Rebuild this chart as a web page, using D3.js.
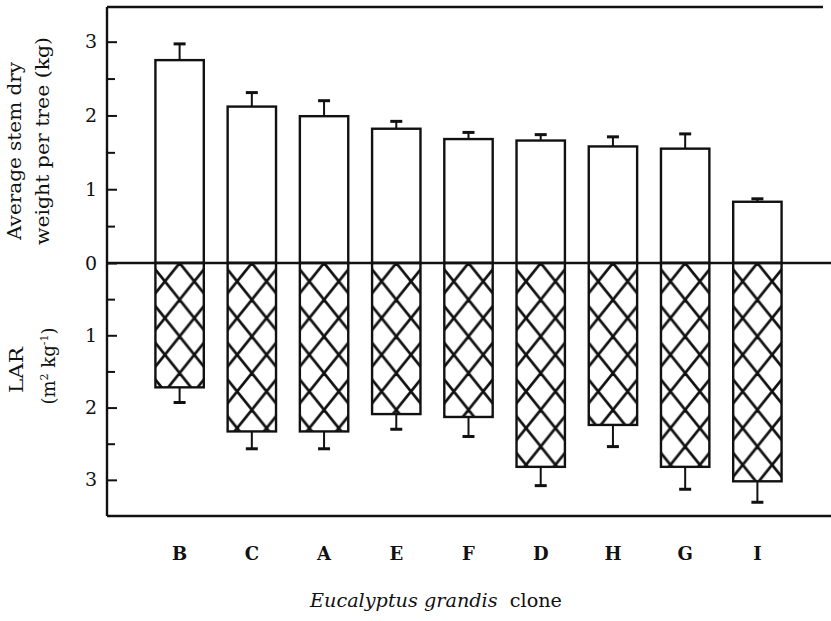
<!DOCTYPE html>
<html>
<head>
<meta charset="utf-8">
<script src="https://cdn.jsdelivr.net/npm/d3@7"></script>
<style>
  html, body { margin: 0; padding: 0; background: #fff; }
  svg { display: block; }
  text { font-family: "DejaVu Serif", "Liberation Serif", serif; fill: #111; }
</style>
</head>
<body>
<div id="chart"></div>
<script>
'use strict';

// data
var clones = ['B', 'C', 'A', 'E', 'F', 'D', 'H', 'G', 'I'];
var stemWeight = [2.75, 2.12, 1.99, 1.82, 1.68, 1.66, 1.58, 1.55, 0.83];
var stemErr = [0.22, 0.19, 0.21, 0.10, 0.09, 0.08, 0.13, 0.20, 0.04];
var lar = [1.72, 2.33, 2.33, 2.09, 2.13, 2.82, 2.24, 2.82, 3.02];
var larErr = [0.21, 0.24, 0.24, 0.21, 0.27, 0.26, 0.30, 0.31, 0.29];
var topTicks = [0, 1, 2, 3];
var bottomTicks = [1, 2, 3];

(function(){

var W = 831, H = 621;
var leftX = 107, topY = 7, zeroY = 263, bottomY = 516, rightX = 831;
var serif = '"DejaVu Serif", "Liberation Serif", serif';

var svg = d3.select('#chart').append('svg')
    .attr('width', W)
    .attr('height', H);

var x = d3.scaleBand()
    .domain(clones)
    .range([143.5, 793.5])
    .paddingInner(0.33)
    .paddingOuter(0.165);

var yTop = d3.scaleLinear().domain([0, 3.47]).range([zeroY, topY]);
var yBot = d3.scaleLinear().domain([0, 3.5]).range([zeroY, bottomY]);

// cross hatch, one pattern per bar so a crossing sits at the bar centre
var tw = 29.4, th = 36.7;
var defs = svg.append('defs');
clones.forEach(function(c, i){
    var p = defs.append('pattern')
        .attr('id', 'hatch' + i)
        .attr('patternUnits', 'userSpaceOnUse')
        .attr('x', x(c) + x.bandwidth() / 2)
        .attr('y', zeroY)
        .attr('width', tw)
        .attr('height', th);
    p.append('rect').attr('width', tw).attr('height', th).attr('fill', '#fff');
    [-1, 0, 1].forEach(function(k){
        p.append('line')
            .attr('x1', k * tw).attr('y1', 0)
            .attr('x2', (k + 1) * tw).attr('y2', th)
            .attr('stroke', '#111').attr('stroke-width', 2.7);
        p.append('line')
            .attr('x1', (k + 1) * tw).attr('y1', 0)
            .attr('x2', k * tw).attr('y2', th)
            .attr('stroke', '#111').attr('stroke-width', 2.7);
    });
});

var gBars = svg.append('g');

// stem weight bars (up)
gBars.selectAll('.up').data(clones).enter().append('rect')
    .attr('class', 'up')
    .attr('x', function(d){ return x(d); })
    .attr('y', function(d, i){ return yTop(stemWeight[i]); })
    .attr('width', x.bandwidth())
    .attr('height', function(d, i){ return zeroY - yTop(stemWeight[i]); })
    .attr('fill', '#fff')
    .attr('stroke', '#111')
    .attr('stroke-width', 2.4);

// LAR bars (down)
gBars.selectAll('.down').data(clones).enter().append('rect')
    .attr('class', 'down')
    .attr('x', function(d){ return x(d); })
    .attr('y', zeroY)
    .attr('width', x.bandwidth())
    .attr('height', function(d, i){ return yBot(lar[i]) - zeroY; })
    .attr('fill', function(d, i){ return 'url(#hatch' + i + ')'; })
    .attr('stroke', '#111')
    .attr('stroke-width', 2.4);

// error bars
function errBars(cls, vals, errs, scale){
    var g = svg.append('g').attr('class', cls);
    clones.forEach(function(c, i){
        var cx = x(c) + x.bandwidth() / 2;
        var y0 = scale(vals[i]), y1 = scale(vals[i] + errs[i]);
        g.append('line')
            .attr('x1', cx).attr('x2', cx)
            .attr('y1', y0).attr('y2', y1)
            .attr('stroke', '#111').attr('stroke-width', 2);
        g.append('line')
            .attr('x1', cx - 6).attr('x2', cx + 6)
            .attr('y1', y1).attr('y2', y1)
            .attr('stroke', '#111').attr('stroke-width', 3);
    });
}
errBars('err-up', stemWeight, stemErr, yTop);
errBars('err-down', lar, larErr, yBot);

// frame lines
var frame = svg.append('g').attr('stroke', '#111').attr('stroke-width', 2.4);
frame.append('line').attr('x1', leftX).attr('x2', 823).attr('y1', topY).attr('y2', topY);
frame.append('line').attr('x1', leftX).attr('x2', rightX).attr('y1', zeroY).attr('y2', zeroY);
frame.append('line').attr('x1', leftX).attr('x2', rightX).attr('y1', bottomY).attr('y2', bottomY);
frame.append('line').attr('x1', leftX).attr('x2', leftX).attr('y1', topY).attr('y2', bottomY);

// axes, ticks pointing inward
function styleAxis(g){
    g.attr('font-family', serif).attr('font-size', 19);
    g.select('.domain').remove();
    g.selectAll('line').attr('stroke', '#111').attr('stroke-width', 2);
    g.selectAll('text').attr('fill', '#111');
}

svg.append('g')
    .attr('transform', 'translate(' + leftX + ',0)')
    .call(d3.axisLeft(yTop).tickValues([0.5, 1.5, 2.5]).tickSize(-8).tickFormat(''))
    .call(styleAxis);
svg.append('g')
    .attr('transform', 'translate(' + leftX + ',0)')
    .call(d3.axisLeft(yTop).tickValues(topTicks).tickSize(-10).tickPadding(10).tickFormat(d3.format('d')))
    .call(styleAxis);
svg.append('g')
    .attr('transform', 'translate(' + leftX + ',0)')
    .call(d3.axisLeft(yBot).tickValues([0.5, 1.5, 2.5]).tickSize(-8).tickFormat(''))
    .call(styleAxis);
svg.append('g')
    .attr('transform', 'translate(' + leftX + ',0)')
    .call(d3.axisLeft(yBot).tickValues(bottomTicks).tickSize(-10).tickPadding(10).tickFormat(d3.format('d')))
    .call(styleAxis);

// category labels
svg.append('g').selectAll('text').data(clones).enter().append('text')
    .attr('x', function(d){ return x(d) + x.bandwidth() / 2; })
    .attr('y', 560)
    .attr('text-anchor', 'middle')
    .style('font-size', '18px')
    .style('font-weight', 600)
    .text(function(d){ return d; });

// axis titles
var xt = svg.append('text')
    .attr('x', 436).attr('y', 607)
    .attr('text-anchor', 'middle')
    .attr('textLength', 252)
    .attr('lengthAdjust', 'spacingAndGlyphs')
    .style('font-size', '18px');
xt.append('tspan').style('font-style', 'italic').text('Eucalyptus grandis');
xt.append('tspan').text('\u00a0 clone');

svg.append('text')
    .attr('transform', 'translate(21,151) rotate(-90)')
    .attr('text-anchor', 'middle')
    .attr('textLength', 178)
    .attr('lengthAdjust', 'spacingAndGlyphs')
    .style('font-size', '19px')
    .text('Average stem dry');
svg.append('text')
    .attr('transform', 'translate(49,141) rotate(-90)')
    .attr('text-anchor', 'middle')
    .attr('textLength', 208)
    .attr('lengthAdjust', 'spacingAndGlyphs')
    .style('font-size', '19px')
    .text('weight per tree (kg)');

svg.append('text')
    .attr('transform', 'translate(23,370) rotate(-90)')
    .attr('text-anchor', 'middle')
    .attr('textLength', 46)
    .attr('lengthAdjust', 'spacingAndGlyphs')
    .style('font-size', '19px')
    .text('LAR');
var lt = svg.append('text')
    .attr('transform', 'translate(55,366) rotate(-90)')
    .attr('text-anchor', 'middle')
    .style('font-size', '18px');
lt.append('tspan').text('(m');
lt.append('tspan').attr('dy', -7).style('font-size', '11px').text('2');
lt.append('tspan').attr('dy', 7).text(' kg');
lt.append('tspan').attr('dy', -7).style('font-size', '11px').text('-1');
lt.append('tspan').attr('dy', 7).text(')');

})();
</script>
</body>
</html>
